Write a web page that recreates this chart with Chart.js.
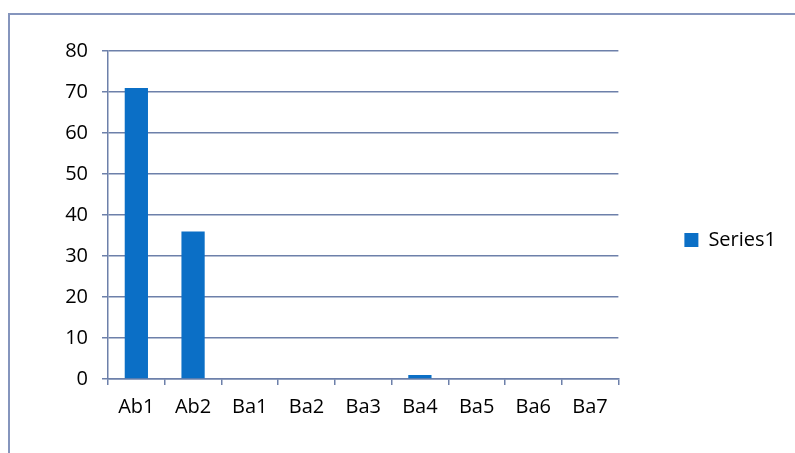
<!DOCTYPE html>
<html>
<head>
<meta charset="utf-8">
<script src="https://cdn.jsdelivr.net/npm/chart.js@4"></script>
<style>
    body { margin: 0; background: #fff; }
    #wrap { position: relative; width: 795px; height: 453px; }
    #frame {
        position: absolute; left: 8px; top: 13px; right: 0; bottom: 0;
        border-left: 2px solid #8595bd; border-top: 2px solid #8595bd;
    }
    canvas { position: absolute; left: 0; top: 0; }
</style>
</head>
<body>
<div id="wrap">
    <div id="frame"></div>
    <canvas id="chart" width="795" height="453"></canvas>
</div>
<script>
const categories = ['Ab1', 'Ab2', 'Ba1', 'Ba2', 'Ba3', 'Ba4', 'Ba5', 'Ba6', 'Ba7'];
const series1 = [71, 36, 0, 0, 0, 1, 0, 0, 0];
const yTicks = [0, 10, 20, 30, 40, 50, 60, 70, 80];

const lineColor = '#6d80aa';
const fontFamily = "'Open Sans', 'Liberation Sans', sans-serif";

const ctx = document.getElementById('chart').getContext('2d');

new Chart(ctx, {
    type: 'bar',
    data: {
        labels: categories,
        datasets: [
            {
                label: 'Series1',
                data: series1,
                backgroundColor: '#0b6fc6',
                barPercentage: 0.41,
                categoryPercentage: 1
            }
        ]
    },
    options: {
        responsive: false,
        animation: false,
        layout: {
            padding: { left: 10, top: 51, right: 9, bottom: 24 }
        },
        plugins: {
            tooltip: { enabled: false },
            legend: {
                position: 'right',
                labels: {
                    boxWidth: 14,
                    boxHeight: 14,
                    padding: 6,
                    color: '#000',
                    font: { family: fontFamily, size: 20 }
                }
            }
        },
        scales: {
            x: {
                grid: {
                    offset: true,
                    drawOnChartArea: false,
                    color: lineColor,
                    tickLength: 6,
                    lineWidth: 1.5
                },
                border: { color: lineColor, width: 1.5 },
                ticks: {
                    color: '#000',
                    padding: 10,
                    font: { family: fontFamily, size: 20 }
                }
            },
            y: {
                min: 0,
                max: 80,
                afterBuildTicks: (scale) => {
                    scale.ticks = yTicks.map(v => ({ value: v }));
                },
                afterFit: (scale) => {
                    scale.width = 98;
                },
                grid: {
                    color: lineColor,
                    lineWidth: 1.5,
                    tickLength: 6
                },
                border: { color: lineColor, width: 1.5 },
                ticks: {
                    color: '#000',
                    padding: 14,
                    font: { family: fontFamily, size: 20 }
                }
            },
            // empty axis that only keeps the gap between the plot and the legend
            gap: {
                position: 'right',
                afterFit: (scale) => {
                    scale.width = 60;
                },
                grid: { display: false },
                border: { display: false },
                ticks: { display: false }
            }
        }
    }
});
</script>
</body>
</html>
